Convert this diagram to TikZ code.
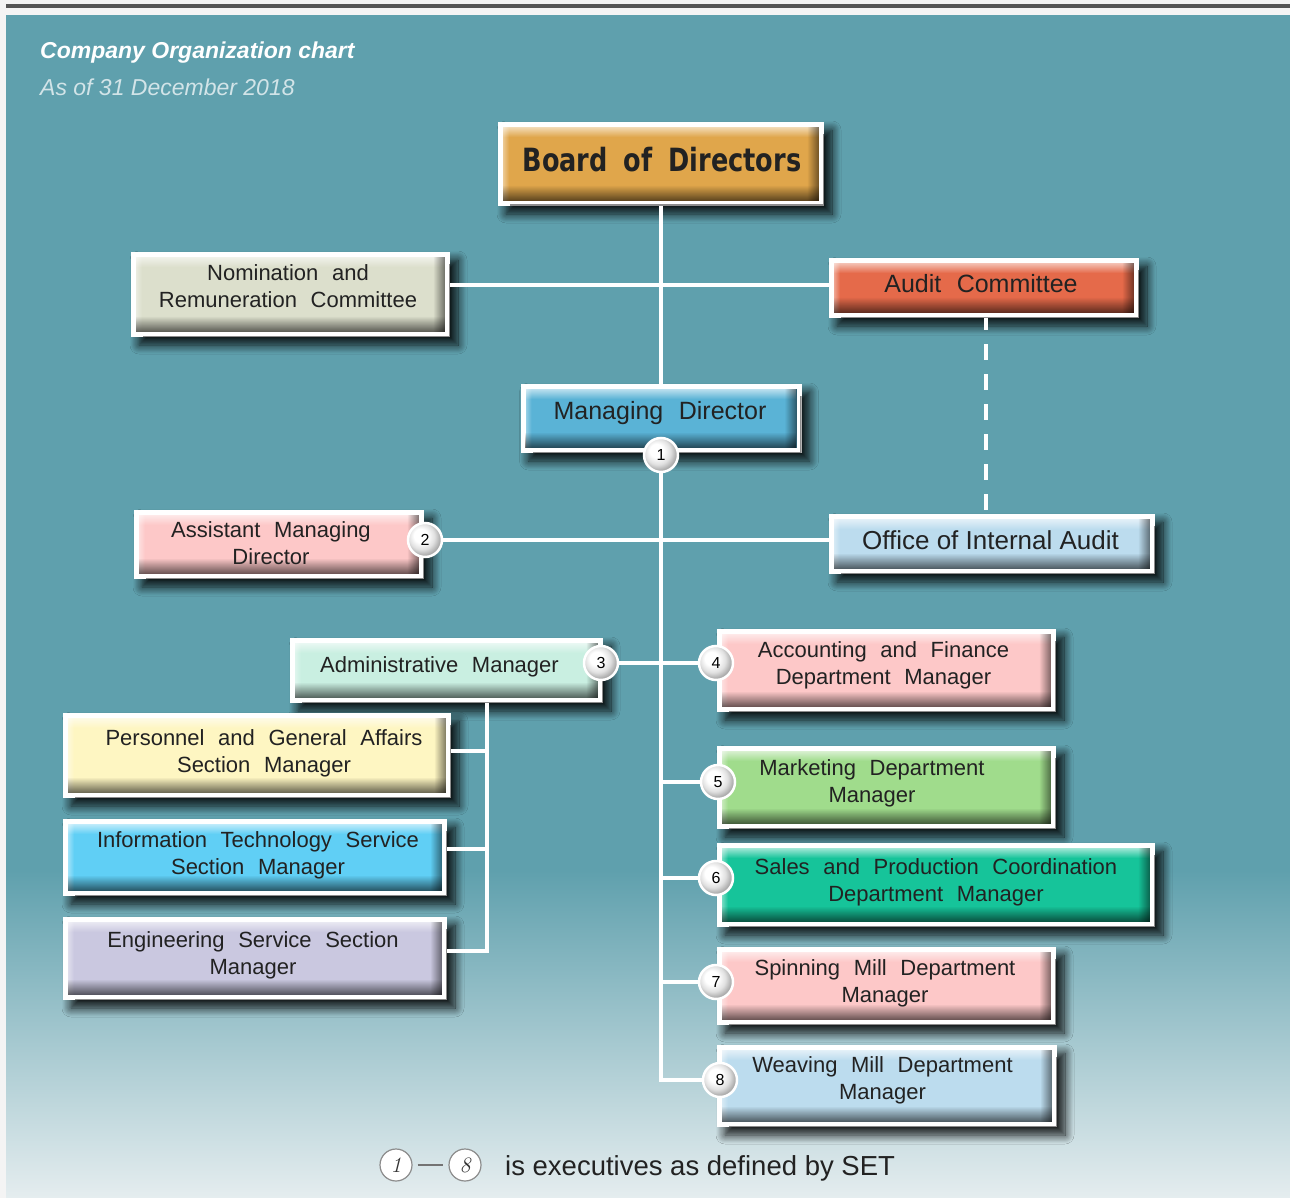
\documentclass[tikz,border=0pt]{standalone}
\usepackage{fontspec}
\newfontfamily\boxfont{Liberation Sans}
\newfontfamily\plainsans{Liberation Sans}
\newfontfamily\boardfont{DejaVu Sans}[FakeStretch=0.8]
\newfontfamily\lmfont{Latin Modern Roman}
\usetikzlibrary{shadows.blur,fadings,calc}
\definecolor{pagebg}{HTML}{F4F4F4}
\definecolor{barcol}{HTML}{555555}
\definecolor{tealbg}{HTML}{5FA0AD}
\definecolor{tealend}{HTML}{E5EDEF}
\definecolor{subcol}{HTML}{D2E4E8}
\definecolor{txtcol}{HTML}{222222}
\definecolor{cBoard}{HTML}{E0A64B}
\definecolor{cNom}{HTML}{DCDFCC}
\definecolor{cAudit}{HTML}{E56A4A}
\definecolor{cMD}{HTML}{5AB3D6}
\definecolor{cPink}{HTML}{FDC8C8}
\definecolor{cLBlue}{HTML}{BCDCEE}
\definecolor{cMint}{HTML}{C9EFE1}
\definecolor{cYellow}{HTML}{FEF6C2}
\definecolor{cCyan}{HTML}{60CFF5}
\definecolor{cLav}{HTML}{CAC8E0}
\definecolor{cGreen}{HTML}{A0DC8C}
\definecolor{cSea}{HTML}{16C49A}
\tikzfading[name=fdN, top color=transparent!0, bottom color=transparent!100]
\tikzfading[name=fdS, top color=transparent!100, bottom color=transparent!0]
\tikzfading[name=fdE, left color=transparent!100, right color=transparent!0]
\tikzfading[name=fdW, left color=transparent!0, right color=transparent!100]
\pgfdeclareradialshading{pearl}{\pgfpoint{-8bp}{8bp}}{color(0bp)=(white); color(10bp)=(white); color(19bp)=(black!12); color(26bp)=(black!32); color(50bp)=(black!55)}
\newcommand\widesp{\spaceskip=0.62em plus 0.1em\relax}
\newcommand\boardsp{\spaceskip=0.5em plus 0.1em\relax}
\tikzset{
  orgbox/.style={rectangle, inner sep=0pt, outer sep=0pt, fill=white,
    blur shadow={shadow xshift=8pt, shadow yshift=-8pt, shadow blur radius=9pt,
      shadow blur steps=12, shadow opacity=90},
    path picture={
      \path (path picture bounding box.north west) ++(5pt,-5pt) coordinate (ppA);
      \path (path picture bounding box.south east) ++(-5pt,5pt) coordinate (ppB);
      \coordinate (ppC) at (ppB |- ppA);
      \coordinate (ppD) at (ppA |- ppB);
      \fill[#1] (ppA) rectangle (ppB);
      \fill[white, opacity=.6, path fading=fdN] (ppA) rectangle ($(ppC)+(0pt,-10pt)$);
      \fill[white, opacity=.4, path fading=fdW] (ppA) rectangle ($(ppD)+(6pt,0pt)$);
      \fill[black, opacity=.6, path fading=fdS] ($(ppD)+(0pt,16pt)$) rectangle (ppB);
      \fill[black, opacity=.5, path fading=fdE] ($(ppC)+(-12pt,0pt)$) rectangle (ppB);
      \draw[black!45, line width=1.5pt] ($(path picture bounding box.north east)+(-0.75pt,-12pt)$) -- ($(path picture bounding box.south east)+(-0.75pt,0.75pt)$) -- ($(path picture bounding box.south west)+(12pt,0.75pt)$);
    }},
  btext/.style={align=center, text=txtcol, inner sep=0pt, font=\boxfont\fontsize{22}{27}\selectfont\widesp},
  badge/.style={circle, minimum size=34pt, inner sep=0pt, shading=pearl, draw=white,
    line width=2.5pt, text=black, font=\plainsans\fontsize{16}{16}\selectfont},
  conn/.style={draw=white, line width=4pt},
  legcirc/.style={circle, minimum size=32pt, inner sep=0pt, draw=black!45, line width=1.2pt,
    fill=white, text=black!80, font=\lmfont\itshape\fontsize{22}{22}\selectfont}
}
\begin{document}
\begin{tikzpicture}[x=1pt, y=-1pt]
\useasboundingbox (0,0) rectangle (1290,1198);
\fill[pagebg] (0,0) rectangle (1290,1198);
\fill[barcol] (6,4) rectangle (1290,8);
\fill[tealbg] (6,15) rectangle (1290,871);
\shade[top color=tealbg, bottom color=tealend] (6,870) rectangle (1290,1198);

% titles
\node[anchor=base west, inner sep=0pt, text=white, font=\plainsans\bfseries\itshape\fontsize{23}{28}\selectfont] (title) at (40,59) {Company Organization chart};
\node[anchor=base west, inner sep=0pt, text=subcol, font=\plainsans\itshape\fontsize{23}{28}\selectfont] (subtitle) at (40,96) {As of 31 December 2018};

% boxes
\node[orgbox=cBoard, minimum width=326pt, minimum height=84pt] (board) at (661,164) {};
\node[orgbox=cNom, minimum width=319pt, minimum height=85pt] (nom) at (290.5,294.5) {};
\node[orgbox=cAudit, minimum width=310pt, minimum height=60pt] (audit) at (984,288) {};
\node[orgbox=cMD, minimum width=281pt, minimum height=69pt] (md) at (661,418.5) {};
\node[orgbox=cPink, minimum width=290pt, minimum height=69pt] (amd) at (279,544.5) {};
\node[orgbox=cLBlue, minimum width=326pt, minimum height=60pt] (oia) at (992,544) {};
\node[orgbox=cMint, minimum width=313pt, minimum height=65pt] (adm) at (446.5,670.5) {};
\node[orgbox=cPink, minimum width=339pt, minimum height=83pt] (acc) at (886.5,670.5) {};
\node[orgbox=cYellow, minimum width=388pt, minimum height=85pt] (pers) at (257,755.5) {};
\node[orgbox=cCyan, minimum width=384pt, minimum height=77pt] (it) at (255,857.5) {};
\node[orgbox=cLav, minimum width=384pt, minimum height=83pt] (eng) at (255,958.5) {};
\node[orgbox=cGreen, minimum width=339pt, minimum height=83pt] (mkt) at (886.5,787.5) {};
\node[orgbox=cSea, minimum width=438pt, minimum height=84pt] (sales) at (936,885) {};
\node[orgbox=cPink, minimum width=339pt, minimum height=78pt] (spin) at (886.5,986) {};
\node[orgbox=cLBlue, minimum width=340pt, minimum height=82pt] (weave) at (887,1086) {};

% texts
\node[btext, font=\boardfont\bfseries\fontsize{32}{36}\selectfont\boardsp] (tboard) at (662,160) {Board of Directors};
\node[btext] (tnom) at (288,286) {Nomination and\\Remuneration Committee};
\node[btext, font=\boxfont\fontsize{25}{30}\selectfont\widesp] (taudit) at (981,284) {Audit Committee};
\node[btext, font=\boxfont\fontsize{25}{30}\selectfont\widesp] (tmd) at (660,413) {Managing Director};
\node[btext] (tamd) at (271,543) {Assistant Managing\\Director};
\node[btext, font=\plainsans\fontsize{26}{30}\selectfont] (toia) at (990.5,540) {Office of Internal Audit};
\node[btext] (tadm) at (439.5,667) {Administrative Manager};
\node[btext] (tacc) at (883.5,665) {Accounting and Finance\\Department Manager};
\node[btext] (tpers) at (264,753) {Personnel and General Affairs\\Section Manager};
\node[btext] (tit) at (258,855) {Information Technology Service\\Section Manager};
\node[btext] (teng) at (253,955) {Engineering Service Section\\Manager};
\node[btext] (tmkt) at (872,783) {Marketing Department\\Manager};
\node[btext] (tsales) at (936,882) {Sales and Production Coordination\\Department Manager};
\node[btext] (tspin) at (885,983) {Spinning Mill Department\\Manager};
\node[btext] (tweave) at (882.5,1080) {Weaving Mill Department\\Manager};

% badges
\node[badge] (b1) at (661,455) {1};
\node[badge] (b2) at (425,540) {2};
\node[badge] (b3) at (601,663) {3};
\node[badge] (b4) at (716,663) {4};
\node[badge] (b5) at (718,782) {5};
\node[badge] (b6) at (716,878) {6};
\node[badge] (b7) at (716,982) {7};
\node[badge] (b8) at (720,1080) {8};

% helper points
\coordinate (brk) at ([xshift=40.5pt]adm.south);
\coordinate (persc) at ([yshift=5pt]pers.east);
\coordinate (itc) at ([yshift=9pt]it.east);
\coordinate (engc) at ([yshift=8pt]eng.east);
\coordinate (nomc) at ([yshift=9pt]nom.east);
\coordinate (audtop) at ([xshift=2pt]audit.south);

% connectors
\draw[conn] (board.south) -- (md.north);
\draw[conn] (nomc) -- (nomc -| audit.west);
\draw[conn] (b1.south) -- (b1 |- b8) -- (b8.west);
\draw[conn] (b2.east) -- (b2 -| oia.west);
\draw[conn] (b3.east) -- (b4.west);
\draw[conn] (b5 -| b1) -- (b5.west);
\draw[conn] (b6 -| b1) -- (b6.west);
\draw[conn] (b7 -| b1) -- (b7.west);
\draw[conn] (brk) -- (brk |- engc) -- (engc);
\draw[conn] (persc) -- (persc -| brk);
\draw[conn] (itc) -- (itc -| brk);
\draw[conn, dash pattern=on 16pt off 14pt, dash phase=4pt] (audtop) -- (audtop |- oia.north);

% legend
\node[legcirc] (l1) at (396,1165) {1};
\node[legcirc] (l8) at (465,1165) {8};
\draw[black!55, line width=1.5pt] (l1.east) ++(5pt,0) coordinate (dA) -- ($(l8.west)+(-5pt,0)$) coordinate (dB);
\node[anchor=base west, inner sep=0pt, text=txtcol, font=\plainsans\fontsize{27.5}{32}\selectfont] (legtxt) at (505,1175) {is executives as defined by SET};
\end{tikzpicture}
\end{document}
